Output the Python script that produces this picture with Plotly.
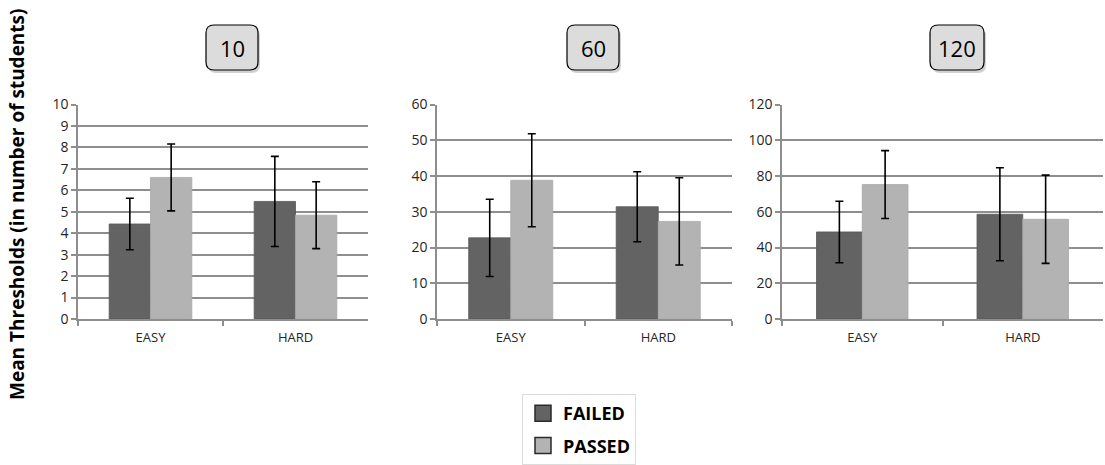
import plotly.graph_objects as go

W, H = 1105, 465

categories = ["EASY", "HARD"]
panel_titles = ["10", "60", "120"]
failed_means = [[4.43, 5.48], [22.7, 31.4], [48.7, 58.6]]
failed_err = [[1.2, 2.1], [10.8, 9.8], [17.2, 26.0]]
passed_means = [[6.6, 4.84], [38.8, 27.3], [75.2, 55.8]]
passed_err = [[1.56, 1.56], [13.0, 12.2], [19.0, 24.7]]
series_names = ["FAILED", "PASSED"]
y_max = [10, 60, 120]
y_dtick = [1, 10, 20]

FAILED_C = "#636363"
PASSED_C = "#b3b3b3"
GRID_C = "#8e8e8e"
FONT = "Open Sans"

# panel pixel extents (left, right)
px_x = [(78, 368), (437, 732), (782, 1103)]
px_top, px_bot = 104.5, 319

def fx(p):
    return p / W

def fy(p):
    return 1 - p / H

fig = go.Figure()

for i in range(3):
    xa = "x" if i == 0 else f"x{i+1}"
    ya = "y" if i == 0 else f"y{i+1}"
    fig.add_trace(go.Bar(
        x=categories, y=failed_means[i], name=series_names[0],
        marker=dict(color=FAILED_C, line=dict(width=0.8, color="#585858")),
        error_y=dict(type="data", array=failed_err[i], color="black", thickness=1.6, width=4),
        xaxis=xa, yaxis=ya, showlegend=False,
    ))
    fig.add_trace(go.Bar(
        x=categories, y=passed_means[i], name=series_names[1],
        marker=dict(color=PASSED_C, line=dict(width=0.8, color="#a8a8a8")),
        error_y=dict(type="data", array=passed_err[i], color="black", thickness=1.6, width=4),
        xaxis=xa, yaxis=ya, showlegend=False,
    ))

# legend entries (legend-only proxies with larger square swatches)
for name, col, grp in [(series_names[0], FAILED_C, "f"), (series_names[1], PASSED_C, "p")]:
    fig.add_trace(go.Scatter(
        x=[None], y=[None], mode="markers", name=name, legendgroup=grp,
        marker=dict(symbol="square", size=16, color=col, line=dict(color="#2a2a2a", width=1.5)),
        xaxis="x", yaxis="y", showlegend=True,
    ))

layout = dict(
    width=W, height=H,
    margin=dict(l=0, r=0, t=0, b=0, autoexpand=False),
    paper_bgcolor="white", plot_bgcolor="white",
    barmode="group", bargap=0.43, bargroupgap=0,
    font=dict(family=FONT, color="#262626"),
    legend=dict(
        x=fx(522), y=0, xanchor="left", yanchor="bottom",
        bordercolor="#dcdcdc", borderwidth=1, bgcolor="white",
        font=dict(family=FONT, size=18, color="black", weight="bold"),
        tracegroupgap=6, itemwidth=30,
    ),
)

for i in range(3):
    xk = "xaxis" if i == 0 else f"xaxis{i+1}"
    yk = "yaxis" if i == 0 else f"yaxis{i+1}"
    ya = "y" if i == 0 else f"y{i+1}"
    xa = "x" if i == 0 else f"x{i+1}"
    layout[xk] = dict(
        domain=[fx(px_x[i][0]), fx(px_x[i][1])], anchor=ya,
        showline=True, linecolor=GRID_C, linewidth=1.5,
        ticks="outside", tickson="boundaries", ticklen=5, tickcolor=GRID_C, tickwidth=1.5,
        tickfont=dict(size=13, family=FONT, color="#262626"), ticklabelstandoff=6,
        showgrid=False, fixedrange=True, automargin=False,
    )
    layout[yk] = dict(
        domain=[fy(px_bot), fy(px_top)], anchor=xa,
        range=[0, y_max[i]], dtick=y_dtick[i], tick0=0,
        showline=True, linecolor=GRID_C, linewidth=1.5,
        showgrid=True, gridcolor=GRID_C, gridwidth=1.5,
        ticks="outside", ticklen=5, tickcolor=GRID_C, tickwidth=1.5,
        tickfont=dict(size=14, family=FONT, color="#262626"),
        zeroline=False, fixedrange=True, automargin=False,
    )

shapes = []
annotations = []
box_centers = [232, 593, 957]
box_w = [52, 52, 54]
by0, by1 = 25, 70
r = 8

def rr(x0, y0, x1, y1):
    return (f"M {fx(x0+r)},{fy(y0)} L {fx(x1-r)},{fy(y0)} Q {fx(x1)},{fy(y0)} {fx(x1)},{fy(y0+r)} "
            f"L {fx(x1)},{fy(y1-r)} Q {fx(x1)},{fy(y1)} {fx(x1-r)},{fy(y1)} "
            f"L {fx(x0+r)},{fy(y1)} Q {fx(x0)},{fy(y1)} {fx(x0)},{fy(y1-r)} "
            f"L {fx(x0)},{fy(y0+r)} Q {fx(x0)},{fy(y0)} {fx(x0+r)},{fy(y0)} Z")

for i in range(3):
    cx = box_centers[i]
    x0, x1 = cx - box_w[i] / 2, cx + box_w[i] / 2
    shapes.append(dict(type="path", xref="paper", yref="paper", path=rr(x0 + 2, by0 + 3, x1 + 2, by1 + 3),
                       fillcolor="rgba(0,0,0,0.18)", line=dict(width=0), layer="below"))
    shapes.append(dict(type="path", xref="paper", yref="paper", path=rr(x0, by0, x1, by1),
                       fillcolor="#dcdcdc", line=dict(color="black", width=1.2), layer="above"))
    annotations.append(dict(text=panel_titles[i], x=fx(cx), y=fy((by0 + by1) / 2), xref="paper", yref="paper",
                            showarrow=False, font=dict(size=22, family=FONT, color="black"),
                            xanchor="center", yanchor="middle"))

annotations.append(dict(text="Mean Thresholds (in number of students)", x=fx(17), y=fy(204),
                        xref="paper", yref="paper", showarrow=False, textangle=-90,
                        font=dict(size=19, family=FONT, color="black", weight="bold"),
                        xanchor="center", yanchor="middle"))

layout["shapes"] = shapes
layout["annotations"] = annotations
fig.update_layout(**layout)

fig.write_html("out.html", config={"displayModeBar": False},
               post_script="document.body.style.margin='0';document.body.style.overflow='hidden';")
